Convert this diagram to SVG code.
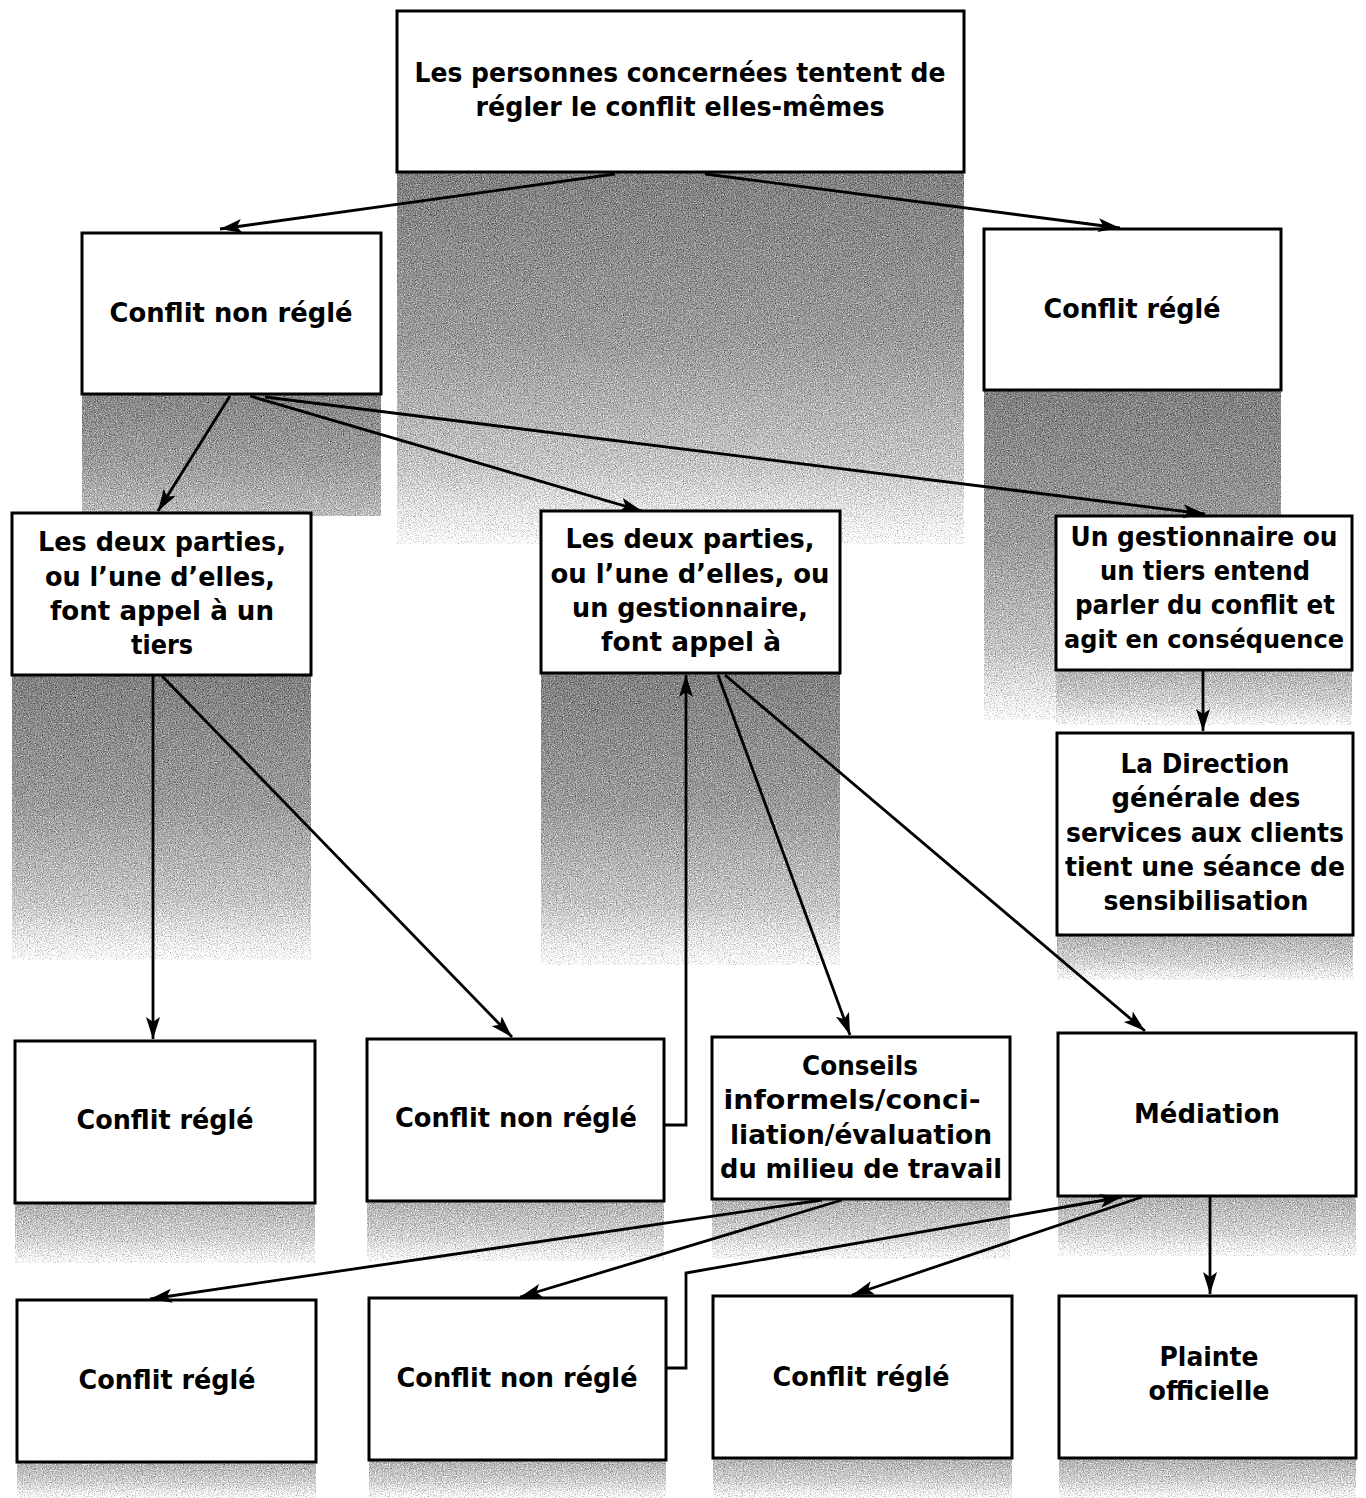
<svg xmlns="http://www.w3.org/2000/svg" width="1366" height="1498" viewBox="0 0 1366 1498">
<defs>
<style>
.box{fill:#fff;stroke:#000;stroke-width:3}
.t{font-family:"DejaVu Sans","Liberation Sans",Arial,sans-serif;font-weight:bold;font-size:27px;text-anchor:middle;fill:#000}
.c{fill:none;stroke:#000;stroke-width:2.8;stroke-linejoin:miter}
.a{marker-end:url(#ah)}
.sh{filter:url(#grain)}
</style>
<marker id="ah" markerUnits="userSpaceOnUse" markerWidth="24" markerHeight="16" refX="22" refY="7" orient="auto">
<path d="M0,0 L22,7 L0,14 L5,7 Z" fill="#000"/>
</marker>
<filter id="grain" x="0" y="0" width="100%" height="100%" color-interpolation-filters="sRGB">
<feTurbulence type="fractalNoise" baseFrequency="0.85" numOctaves="2" seed="7" result="n"/>
<feColorMatrix in="n" type="matrix" values="0.33 0.33 0.33 0 0  0.33 0.33 0.33 0 0  0.33 0.33 0.33 0 0  0 0 0 0 1" result="g"/>
<feComposite in="SourceGraphic" in2="g" operator="arithmetic" k1="0" k2="1" k3="1.4" k4="-0.7" result="mix"/>
<feComposite in="mix" in2="SourceAlpha" operator="in"/>
</filter>
<linearGradient id="gTall" x1="0" y1="0" x2="0" y2="1">
<stop offset="0" stop-color="#828282"/>
<stop offset="0.45" stop-color="#9c9c9c"/>
<stop offset="0.8" stop-color="#c8c8c8"/>
<stop offset="1" stop-color="#ffffff"/>
</linearGradient>
<linearGradient id="gMid" x1="0" y1="0" x2="0" y2="1">
<stop offset="0" stop-color="#888"/>
<stop offset="0.6" stop-color="#a0a0a0"/>
<stop offset="1" stop-color="#bdbdbd"/>
</linearGradient>
<linearGradient id="gShort" x1="0" y1="0" x2="0" y2="1">
<stop offset="0" stop-color="#b2b2b2"/>
<stop offset="0.6" stop-color="#d4d4d4"/>
<stop offset="1" stop-color="#ffffff"/>
</linearGradient>
</defs>
<rect width="1366" height="1498" fill="#fff"/>

<g id="shading">
<rect class="sh" x="397" y="172" width="567" height="372" fill="url(#gTall)"/>
<rect class="sh" x="82" y="394" width="299" height="122" fill="url(#gMid)"/>
<rect class="sh" x="984" y="390" width="297" height="330" fill="url(#gTall)"/>
<rect class="sh" x="12" y="675" width="299" height="285" fill="url(#gTall)"/>
<rect class="sh" x="541" y="673" width="299" height="292" fill="url(#gTall)"/>
<rect class="sh" x="1056" y="670" width="296" height="55" fill="url(#gShort)"/>
<rect class="sh" x="1057" y="935" width="296" height="45" fill="url(#gShort)"/>
<rect class="sh" x="15" y="1203" width="300" height="60" fill="url(#gShort)"/>
<rect class="sh" x="367" y="1201" width="297" height="60" fill="url(#gShort)"/>
<rect class="sh" x="712" y="1199" width="298" height="60" fill="url(#gShort)"/>
<rect class="sh" x="1058" y="1196" width="298" height="60" fill="url(#gShort)"/>
<rect class="sh" x="17" y="1462" width="299" height="36" fill="url(#gShort)"/>
<rect class="sh" x="369" y="1460" width="297" height="38" fill="url(#gShort)"/>
<rect class="sh" x="713" y="1458" width="299" height="40" fill="url(#gShort)"/>
<rect class="sh" x="1059" y="1458" width="297" height="40" fill="url(#gShort)"/>
</g>

<g id="n1"><rect class="box" x="397" y="11" width="567" height="161"/>
<text class="t" x="680" y="82" textLength="531" lengthAdjust="spacingAndGlyphs">Les personnes concernées tentent de</text>
<text class="t" x="680" y="116" textLength="409" lengthAdjust="spacingAndGlyphs">régler le conflit elles-mêmes</text></g>

<g id="n2"><rect class="box" x="82" y="233" width="299" height="161"/>
<text class="t" x="231" y="322" textLength="243" lengthAdjust="spacingAndGlyphs">Conflit non réglé</text></g>

<g id="n3"><rect class="box" x="984" y="229" width="297" height="161"/>
<text class="t" x="1132" y="318" textLength="177" lengthAdjust="spacingAndGlyphs">Conflit réglé</text></g>

<g id="n4"><rect class="box" x="12" y="513" width="299" height="162"/>
<text class="t" x="162" y="551" textLength="248" lengthAdjust="spacingAndGlyphs">Les deux parties,</text>
<text class="t" x="160" y="586" textLength="230" lengthAdjust="spacingAndGlyphs">ou l’une d’elles,</text>
<text class="t" x="162" y="620" textLength="224" lengthAdjust="spacingAndGlyphs">font appel à un</text>
<text class="t" x="162" y="654" textLength="62" lengthAdjust="spacingAndGlyphs">tiers</text></g>

<g id="n5"><rect class="box" x="541" y="511" width="299" height="162"/>
<text class="t" x="690" y="548" textLength="249" lengthAdjust="spacingAndGlyphs">Les deux parties,</text>
<text class="t" x="690" y="583" textLength="279" lengthAdjust="spacingAndGlyphs">ou l’une d’elles, ou</text>
<text class="t" x="690" y="617" textLength="236" lengthAdjust="spacingAndGlyphs">un gestionnaire,</text>
<text class="t" x="691" y="651" textLength="180" lengthAdjust="spacingAndGlyphs">font appel à</text></g>

<g id="n6"><rect class="box" x="1056" y="516" width="296" height="154"/>
<text class="t" x="1204" y="546" textLength="267" lengthAdjust="spacingAndGlyphs">Un gestionnaire ou</text>
<text class="t" x="1205" y="580" textLength="210" lengthAdjust="spacingAndGlyphs">un tiers entend</text>
<text class="t" x="1205" y="614" textLength="260" lengthAdjust="spacingAndGlyphs">parler du conflit et</text>
<text class="t" x="1204" y="648" style="font-size:25px" textLength="280" lengthAdjust="spacingAndGlyphs">agit en conséquence</text></g>

<g id="n7"><rect class="box" x="1057" y="733" width="296" height="202"/>
<text class="t" x="1205" y="773" textLength="169" lengthAdjust="spacingAndGlyphs">La Direction</text>
<text class="t" x="1206" y="807" textLength="189" lengthAdjust="spacingAndGlyphs">générale des</text>
<text class="t" x="1205" y="842" textLength="278" lengthAdjust="spacingAndGlyphs">services aux clients</text>
<text class="t" x="1205" y="876" textLength="280" lengthAdjust="spacingAndGlyphs">tient une séance de</text>
<text class="t" x="1206" y="910" textLength="205" lengthAdjust="spacingAndGlyphs">sensibilisation</text></g>

<g id="n8"><rect class="box" x="15" y="1041" width="300" height="162"/>
<text class="t" x="165" y="1129" textLength="177" lengthAdjust="spacingAndGlyphs">Conflit réglé</text></g>

<g id="n9"><rect class="box" x="367" y="1039" width="297" height="162"/>
<text class="t" x="516" y="1127" textLength="242" lengthAdjust="spacingAndGlyphs">Conflit non réglé</text></g>

<g id="n10"><rect class="box" x="712" y="1037" width="298" height="162"/>
<text class="t" x="860" y="1075" textLength="116" lengthAdjust="spacingAndGlyphs">Conseils</text>
<text class="t" x="852" y="1109" textLength="257" lengthAdjust="spacingAndGlyphs">informels/conci-</text>
<text class="t" x="861" y="1144" textLength="262" lengthAdjust="spacingAndGlyphs">liation/évaluation</text>
<text class="t" x="861" y="1178" textLength="282" lengthAdjust="spacingAndGlyphs">du milieu de travail</text></g>

<g id="n11"><rect class="box" x="1058" y="1033" width="298" height="163"/>
<text class="t" x="1207" y="1123" textLength="146" lengthAdjust="spacingAndGlyphs">Médiation</text></g>

<g id="n12"><rect class="box" x="17" y="1300" width="299" height="162"/>
<text class="t" x="167" y="1389" textLength="177" lengthAdjust="spacingAndGlyphs">Conflit réglé</text></g>

<g id="n13"><rect class="box" x="369" y="1298" width="297" height="162"/>
<text class="t" x="517" y="1387" textLength="241" lengthAdjust="spacingAndGlyphs">Conflit non réglé</text></g>

<g id="n14"><rect class="box" x="713" y="1296" width="299" height="162"/>
<text class="t" x="861" y="1386" textLength="177" lengthAdjust="spacingAndGlyphs">Conflit réglé</text></g>

<g id="n15"><rect class="box" x="1059" y="1296" width="297" height="162"/>
<text class="t" x="1209" y="1366" textLength="99" lengthAdjust="spacingAndGlyphs">Plainte</text>
<text class="t" x="1209" y="1400" textLength="121" lengthAdjust="spacingAndGlyphs">officielle</text></g>

<g id="connectors">
<path class="c a" d="M615,174 L220,229"/>
<path class="c a" d="M705,174 L1120,228"/>
<path class="c a" d="M230,396 L158,511"/>
<path class="c a" d="M250,396 L642,511"/>
<path class="c a" d="M265,397 L1205,514"/>
<path class="c a" d="M153,676 L153,1039"/>
<path class="c a" d="M162,676 L512,1037"/>
<path class="c a" d="M664,1125 L686,1125 L686,675"/>
<path class="c a" d="M718,675 L850,1035"/>
<path class="c a" d="M725,675 L1145,1031"/>
<path class="c a" d="M1203,671 L1203,731"/>
<path class="c a" d="M822,1200 L150,1299"/>
<path class="c a" d="M842,1200 L520,1297"/>
<path class="c a" d="M666,1368 L686,1368 L686,1273 L1122,1197"/>
<path class="c a" d="M1142,1197 L852,1295"/>
<path class="c a" d="M1210,1197 L1210,1294"/>
</g>
</svg>
